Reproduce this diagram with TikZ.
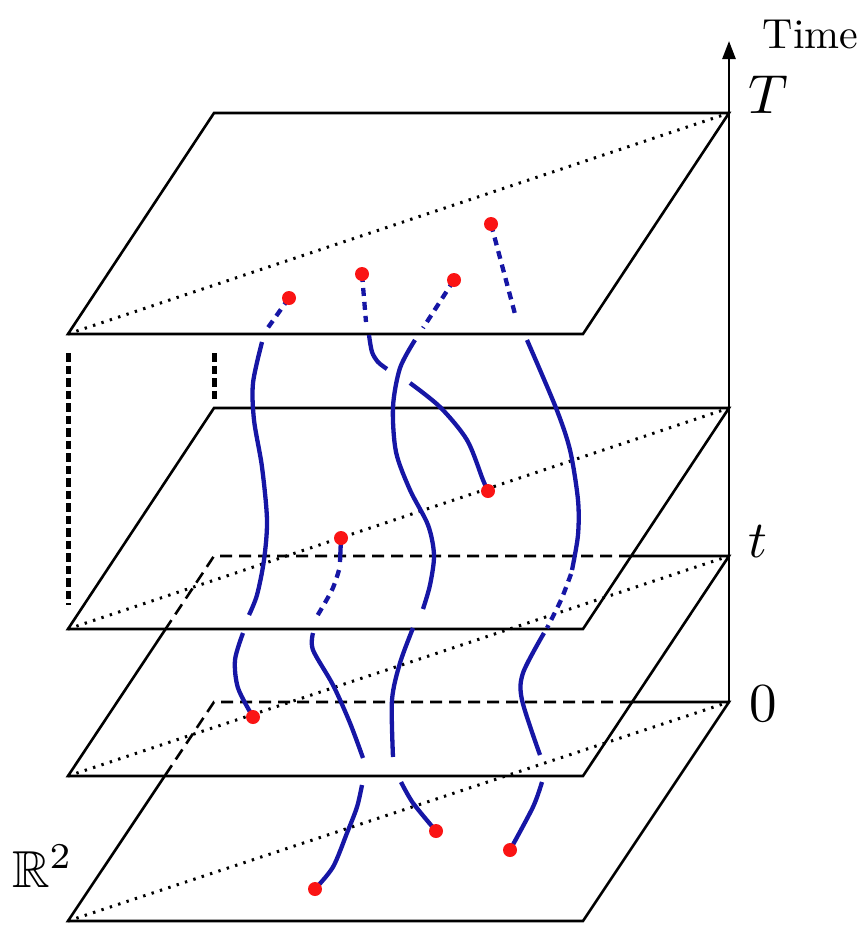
\documentclass[tikz,border=0pt]{standalone}
\usepackage{amssymb}
\usetikzlibrary{arrows.meta}
\definecolor{curveblue}{RGB}{22,22,165}
\definecolor{dotred}{RGB}{250,20,20}
\begin{document}
\begin{tikzpicture}[x=1pt,y=-1pt,
  planeedge/.style={line width=2.6pt, black, line join=miter},
  hidden/.style={line width=2.6pt, black, dash pattern=on 12pt off 7pt},
  diag/.style={line width=3pt, black, dash pattern=on 2.4pt off 6.4pt},
  gapline/.style={line width=5pt, black, dash pattern=on 8.5pt off 4pt},
  traj/.style={curveblue, line width=4.3pt},
  trajdash/.style={curveblue, line width=4.3pt, dash pattern=on 8pt off 6pt},
  dot/.style={fill=dotred},
  lbl/.style={inner sep=0pt, anchor=base west}]
\useasboundingbox (0,0) rectangle (865,937);

% plane corners
\coordinate (p1a) at (68,334);  \coordinate (p1b) at (583,334);
\coordinate (p1c) at (729,113); \coordinate (p1d) at (214,113);
\coordinate (p2a) at (68,629);  \coordinate (p2b) at (583,629);
\coordinate (p2c) at (729,408); \coordinate (p2d) at (214,408);
\coordinate (p3a) at (68,776);  \coordinate (p3b) at (583,776);
\coordinate (p3c) at (729,556); \coordinate (p3d) at (214,556);
\coordinate (h3a) at (631,556); \coordinate (h3b) at (165.6,629);
\coordinate (p4a) at (68,921);  \coordinate (p4b) at (583,921);
\coordinate (p4c) at (729,702); \coordinate (p4d) at (214,702);
\coordinate (h4a) at (632,702); \coordinate (h4b) at (164.7,776);
\coordinate (axtop) at (729,41);

% plane 1
\draw[diag] (p1a) -- (p1c);
\draw[planeedge] (p1a) -- (p1b) -- (p1c) -- (p1d) -- cycle;
% plane 2
\draw[diag] (p2a) -- (p2c);
\draw[planeedge] (p2a) -- (p2b) -- (p2c) -- (p2d) -- cycle;
% plane 3
\draw[diag] (p3a) -- (p3c);
\draw[planeedge] (h3b) -- (p3a) -- (p3b) -- (p3c) -- (h3a);
\draw[hidden] (h3a) -- (p3d) -- (h3b);
% plane 4
\draw[diag] (p4a) -- (p4c);
\draw[planeedge] (h4b) -- (p4a) -- (p4b) -- (p4c) -- (h4a);
\draw[hidden] (h4a) -- (p4d) -- (h4b);

% time axis
\draw[planeedge, -{Triangle[length=18pt,width=13pt]}] (p4c) -- (axtop);

% thick dashed gaps
\coordinate (g1a) at (68,353);  \coordinate (g1b) at (68,605);
\coordinate (g2a) at (214,353); \coordinate (g2b) at (214,400);
\draw[gapline] (g1a) -- (g1b);
\draw[gapline] (g2a) -- (g2b);

% dots
\coordinate (d1) at (289,298);
\coordinate (d2) at (362,274);
\coordinate (d3) at (454,280);
\coordinate (d4) at (491,224);
\coordinate (d5) at (488,491);
\coordinate (d6) at (341,538);
\coordinate (d7) at (253,717);
\coordinate (d8) at (436,831);
\coordinate (d9) at (510,850);
\coordinate (d10) at (315,889);

% curve 1
\draw[trajdash] (d1) -- (267,329);
\draw[traj] plot[smooth] coordinates {(262,342) (253,383) (254,420) (262,467) (267,520) (264,560) (257,595) (249,615)};
\draw[traj] plot[smooth] coordinates {(243,633) (235,660) (238,688) (d7)};
% curve 2
\draw[trajdash] (d2) -- (366,322);
\draw[traj] plot[smooth] coordinates {(369,335) (372,352) (378,362) (387,369)};
\draw[traj] plot[smooth] coordinates {(410,383) (440,407) (467,440) (483,480) (d5)};
% curve 3
\draw[trajdash] (d3) -- (423,328);
\draw[traj] plot[smooth] coordinates {(415,340) (400,368) (393,407) (396,452) (410,490) (428,525) (434,555) (430,585) (423,609)};
\draw[traj] plot[smooth] coordinates {(413,628) (400,663) (392,700) (393,757)};
\draw[traj] plot[smooth] coordinates {(401,782) (413,803) (d8)};
% curve 4
\draw[trajdash] (d4) -- (515,314);
\draw[traj] plot[smooth] coordinates {(527,340) (556,408) (570,450) (578,500) (578,535) (572,570)};
\draw[trajdash] plot[smooth] coordinates {(571,574) (561,600) (547,628)};
\draw[traj] plot[smooth] coordinates {(544,633) (523,673) (522,700) (540,755)};
\draw[traj] plot[smooth] coordinates {(542,782) (533,807) (d9)};
% curve 5
\draw[traj] (d6) -- (340,562);
\draw[trajdash] plot[smooth] coordinates {(339,570) (332,590) (316,618)};
\draw[traj] plot[smooth] coordinates {(313,633) (313,650) (333,685) (350,723) (363,758)};
\draw[traj] plot[smooth] coordinates {(362,785) (357,807) (347,833) (333,867) (d10)};

\foreach \d in {d1,d2,d3,d4,d5,d6,d7,d8,d9,d10}
  \fill[dot] (\d) circle (7);

% labels
\node[lbl, scale=4.2] (time) at (762,48) {Time};
\node[lbl, scale=5.5] (labT) at (747,113) {$T$};
\node[lbl, scale=5.2] (labt) at (747,557) {$t$};
\node[lbl, scale=5.5] (lab0) at (748,721) {$0$};
\node[lbl, scale=5.2] (labR) at (11,887) {$\mathbb{R}^2$};
\end{tikzpicture}
\end{document}
